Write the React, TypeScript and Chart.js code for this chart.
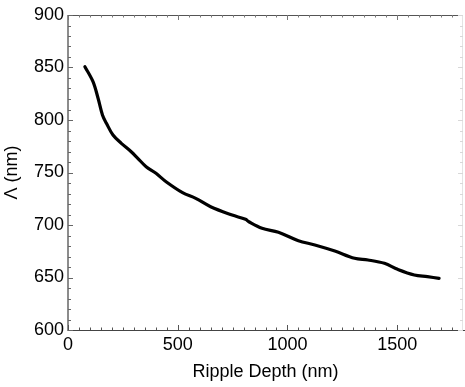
import React, { useEffect, useRef } from "react";
import { Chart, registerables } from "chart.js";

Chart.register(...registerables);

const depthNm = [77, 114, 137, 157, 175, 205, 243, 288, 318, 356, 401, 447, 522, 582, 650, 748, 809, 824, 884, 959, 1050, 1125, 1216, 1306, 1367, 1442, 1502, 1578, 1638, 1691];
const periodNm = [850.8, 836.5, 820.7, 804.8, 796.9, 785.7, 777.8, 769.8, 763.5, 755.5, 749.2, 741.2, 730.8, 725.4, 717.4, 709.5, 705.4, 703.1, 696.9, 693, 685, 681, 675.2, 668.3, 666.7, 663.5, 657.8, 652.4, 650.8, 649.2];
const xTicks = [0, 500, 1000, 1500];
const yTicks = [600, 650, 700, 750, 800, 850, 900];

const framePlugin = {
  id: "frame",
  afterDraw(chart: any) {
    const { ctx, chartArea } = chart;
    const { left, right, top, bottom } = chartArea;
    const xs = chart.scales.x;
    const ys = chart.scales.y;
    ctx.save();
    const line = (x1: number, y1: number, x2: number, y2: number, c: string, w: number) => {
      ctx.strokeStyle = c;
      ctx.lineWidth = w;
      ctx.beginPath();
      ctx.moveTo(x1, y1);
      ctx.lineTo(x2, y2);
      ctx.stroke();
    };
    line(left, top + 0.5, right, top + 0.5, "#555", 1);
    line(right - 0.5, top, right - 0.5, bottom, "#e4e4e4", 1);
    line(left, bottom + 0.5, right + 2, bottom + 0.5, "#444", 1);
    line(left, top, left, bottom + 1, "#8c8c8c", 2);
    for (let v = 0; v <= 1800; v += 50) {
      const px = Math.round(xs.getPixelForValue(v)) + 0.5;
      if (px < left || px > right) continue;
      const major = v % 500 === 0;
      const len = major ? 5 : 2.5;
      line(px, bottom, px, bottom - len, "#555", 1);
      line(px, top, px, top + len, "#777", 1);
    }
    for (let v = 600; v <= 900; v += 10) {
      const py = Math.round(ys.getPixelForValue(v)) + 0.5;
      const major = v % 50 === 0;
      const len = major ? 5 : 3;
      line(left, py, left + len, py, "#666", 1);
      line(right, py, right - len, py, "#d8d8d8", 1);
    }
    ctx.restore();
  },
};

export default function App() {
  const ref = useRef<HTMLCanvasElement | null>(null);
  useEffect(() => {
    document.body.style.margin = "0";
    const canvas = ref.current!;
    const font = { family: "'Liberation Sans', Arial, sans-serif", size: 18 };
    const chart = new Chart(canvas, {
      type: "line",
      data: {
        datasets: [
          {
            data: depthNm.map((x, i) => ({ x, y: periodNm[i] })),
            borderColor: "#000",
            borderWidth: 3.2,
            pointRadius: 0,
            tension: 0.35,
            fill: false,
            borderCapStyle: "round",
            borderJoinStyle: "round",
          },
        ],
      },
      options: {
        animation: false,
        responsive: false,
        maintainAspectRatio: false,
        layout: { padding: { top: 15, right: 2, left: 0, bottom: 0 } },
        plugins: { legend: { display: false }, tooltip: { enabled: false } },
        scales: {
          x: {
            type: "linear",
            min: 0,
            max: 1800,
            afterBuildTicks: (s: any) => {
              s.ticks = xTicks.map((v) => ({ value: v }));
            },
            afterFit: (s: any) => {
              s.height = 57;
            },
            grid: { display: false, drawTicks: false },
            border: { display: false },
            ticks: { font, color: "#000", padding: 4, maxRotation: 0, autoSkip: false, callback: (v: any) => String(v) },
            title: { display: true, text: "Ripple Depth (nm)", font, color: "#000", padding: { top: 0, bottom: 4 } },
          },
          y: {
            type: "linear",
            min: 600,
            max: 900,
            afterBuildTicks: (s: any) => {
              s.ticks = yTicks.map((v) => ({ value: v }));
            },
            afterFit: (s: any) => {
              s.width = 68;
            },
            grid: { display: false, drawTicks: false },
            border: { display: false },
            ticks: { font, color: "#000", padding: 4, autoSkip: false, callback: (v: any) => String(v) },
            title: { display: true, text: "Λ (nm)", font, color: "#000", padding: { top: 1, bottom: 0 } },
          },
        },
      },
      plugins: [framePlugin],
    } as any);
    return () => chart.destroy();
  }, []);
  return <canvas ref={ref} width={465} height={387} style={{ display: "block" }} />;
}
